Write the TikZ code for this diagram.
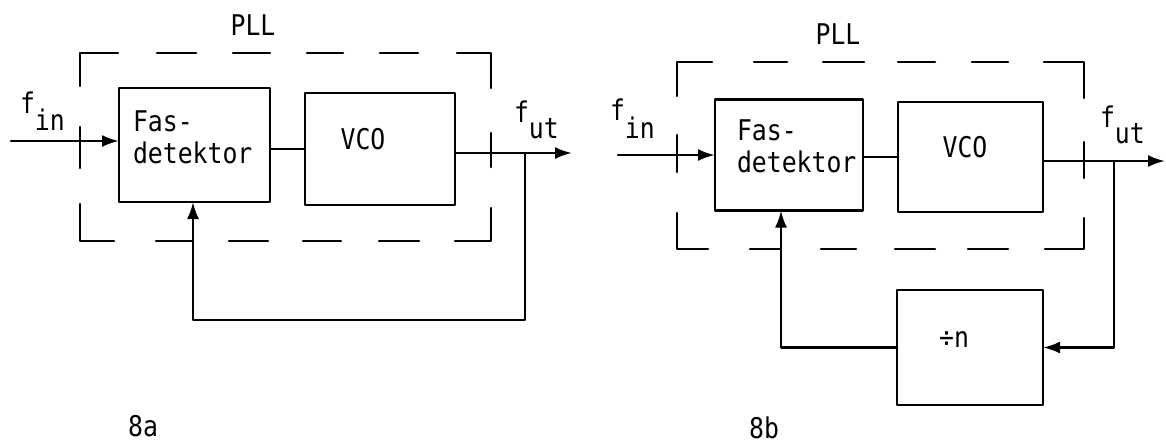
\documentclass[tikz,border=0pt]{standalone}
\usepackage{fontspec}
\setmonofont[FakeStretch=0.87]{DejaVu Sans Mono}
\usetikzlibrary{arrows.meta}
\begin{document}
\begin{tikzpicture}[x=1pt,y=-1pt,
  ln/.style={line width=2.5pt, line cap=round, line join=round},
  blk/.style={draw, ln, rectangle, inner sep=0pt, outer sep=0pt},
  arr/.style={ln, -{Latex[length=17pt,width=12pt]}},
  txt/.style={font=\fontsize{28.5}{32}\selectfont\ttfamily, inner sep=0pt, outer sep=0pt}]
\useasboundingbox (0,0) rectangle (1166,445);

% ---------- 8a ----------
\node[blk, minimum width=151pt, minimum height=114pt] (fd1) at (194.5,145) {};
\node[blk, minimum width=150pt, minimum height=112pt] (vco1) at (380,149) {};
\node[txt, anchor=base west] (fd1a) at (133,131) {Fas-};
\node[txt, anchor=base west] (fd1b) at (133,163) {detektor};
\node[txt] (vco1t) at (363,139) {VCO};
\node[txt] (pll1) at (253,25) {PLL};
\node[txt, anchor=base west] (fin1) at (20,113) {f\raisebox{-17pt}{in}};
\node[txt, anchor=base west] (fut1) at (514,122) {f\raisebox{-16pt}{ut}};
\node[txt] (la) at (143,426) {8a};

% dashed PLL border 8a
\draw[ln] (80,86) -- (80,53) -- (118,53);
\foreach \a/\b in {157/196,233/270,307/343,380/418} \draw[ln] (\a,53) -- (\b,53);
\draw[ln] (457,53) -- (491,53) -- (491,88);
\draw[ln] (80,204) -- (80,241) -- (114,241);
\foreach \a/\b in {156/193,229/268,303/341,379/419} \draw[ln] (\a,241) -- (\b,241);
\draw[ln] (455,241) -- (491,241) -- (491,208);
\draw[ln] (80,127) -- (80,168);
\draw[ln] (491,133) -- (491,167);

% connectors 8a
\coordinate (in1) at (11,141);
\draw[arr] (in1) -- (in1 -| fd1.west);
\draw[ln] (fd1.east |- vco1.west) -- (vco1.west);
\coordinate (out1) at (572,153);
\draw[arr] (out1 -| vco1.east) -- (out1);
\coordinate (tap1) at (525,153);
\coordinate (fb1) at (193,320);
\draw[arr] (tap1) |- (fb1) -- (fb1 |- fd1.south);

% ---------- 8b ----------
\node[blk, minimum width=148pt, minimum height=111pt] (fd2) at (789,155) {};
\node[blk, minimum width=145pt, minimum height=110pt] (vco2) at (970.5,157) {};
\node[blk, minimum width=146pt, minimum height=115pt] (div) at (970,347.5) {};
\node[txt, anchor=base west] (fd2a) at (737,140) {Fas-};
\node[txt, anchor=base west] (fd2b) at (737,172) {detektor};
\node[txt] (vco2t) at (965,147) {VCO};
\node[txt] (divt) at (954,340) {÷n};
\node[txt] (pll2) at (838,34) {PLL};
\node[txt, anchor=base west] (fin2) at (610,120) {f\raisebox{-18pt}{in}};
\node[txt, anchor=base west] (fut2) at (1100,127) {f\raisebox{-16pt}{ut}};
\node[txt] (lb) at (764,428) {8b};

% dashed PLL border 8b
\draw[ln] (677,96) -- (677,62) -- (712,62);
\foreach \a/\b in {754/787,823/864,898/935,972/1008} \draw[ln] (\a,62) -- (\b,62);
\draw[ln] (1044,62) -- (1084,62) -- (1084,98);
\draw[ln] (677,213) -- (677,249) -- (708,249);
\foreach \a/\b in {750/781,821/856,895/935,968/1008} \draw[ln] (\a,249) -- (\b,249);
\draw[ln] (1045,249) -- (1084,249) -- (1084,218);
\draw[ln] (677,135) -- (677,172);
\draw[ln] (1084,142) -- (1084,178);

% connectors 8b
\coordinate (in2) at (618,155);
\draw[arr] (in2) -- (in2 -| fd2.west);
\draw[ln] (fd2.east |- vco2.west) -- (vco2.west);
\coordinate (out2) at (1165,161);
\draw[arr] (out2 -| vco2.east) -- (out2);
\coordinate (tap2) at (1114,161);
\draw[arr] (tap2) |- (div.east);
\coordinate (fb2) at (781,0);
\draw[arr] (div.west) -| (fb2 |- fd2.south);
\end{tikzpicture}
\end{document}
